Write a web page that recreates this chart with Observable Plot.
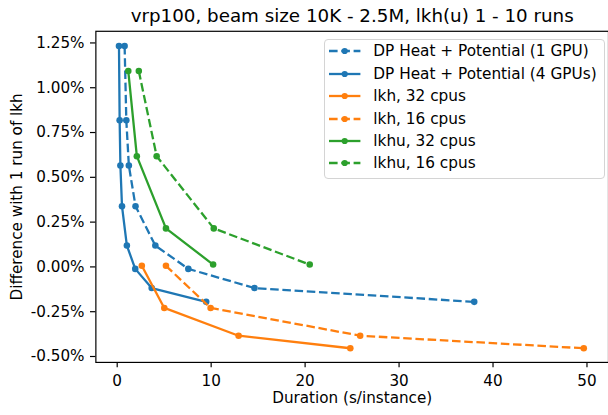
<!DOCTYPE html>
<html>
<head>
<meta charset="utf-8">
<script src="https://cdn.jsdelivr.net/npm/d3@7"></script>
<script src="https://cdn.jsdelivr.net/npm/@observablehq/plot@0.6"></script>
<style>
  html, body { margin: 0; padding: 0; background: #fff; overflow: hidden; }
  #wrap { position: relative; width: 608px; height: 415px; overflow: hidden; font-family: "DejaVu Sans", sans-serif; }
  #wrap > svg { position: absolute; left: 0; top: 0; }
  #legend { position: absolute; left: 324px; top: 39px; width: 281px; height: 140px; padding: 0;
    border: 1px solid #d4d4d4; border-radius: 4px; background: rgba(255,255,255,0.8); box-sizing: border-box; }
  .row { display: flex; align-items: center; height: 22.45px; font-size: 15.3px; color: #000; white-space: nowrap; }
  .row svg { margin-left: 4.3px; margin-right: 12.6px; flex: none; }
</style>
</head>
<body>
<div id="wrap"><div id="legend"></div></div>
<script>
const title = "vrp100, beam size 10K - 2.5M, lkh(u) 1 - 10 runs";
const xLabel = "Duration (s/instance)";
const yLabel = "Difference with 1 run of lkh";
const xTicks = [0, 10, 20, 30, 40, 50];
const yTicks = [-0.5, -0.25, 0, 0.25, 0.5, 0.75, 1.0, 1.25];

const seriesNames = ["DP Heat + Potential (1 GPU)", "DP Heat + Potential (4 GPUs)", "lkh, 32 cpus", "lkh, 16 cpus", "lkhu, 32 cpus", "lkhu, 16 cpus"];
const seriesColors = ["#1f77b4", "#1f77b4", "#ff7f0e", "#ff7f0e", "#2ca02c", "#2ca02c"];
const seriesDashed = [true, false, false, true, false, true];

// y values (% difference with 1 run of lkh)
const beamDiff = [1.233, 0.818, 0.566, 0.339, 0.119, -0.011, -0.118, -0.195];
const lkhDiff = [0.006, -0.229, -0.384, -0.454];
const lkhuDiff = [1.093, 0.618, 0.215, 0.013];
// durations (s/instance)
const gpu1Dur = [0.79, 0.97, 1.24, 1.95, 4.06, 7.57, 14.61, 38.0];
const gpu4Dur = [0.19, 0.26, 0.34, 0.51, 1.03, 1.92, 3.67, 9.47];
const lkh32Dur = [2.62, 5.01, 12.92, 24.81];
const lkh16Dur = [5.19, 9.94, 25.86, 49.66];
const lkhu32Dur = [1.18, 2.09, 5.19, 10.21];
const lkhu16Dur = [2.3, 4.2, 10.28, 20.49];

const seriesX = [gpu1Dur, gpu4Dur, lkh32Dur, lkh16Dur, lkhu32Dur, lkhu16Dur];
const seriesY = [beamDiff, beamDiff, lkhDiff, lkhDiff, lkhuDiff, lkhuDiff];

const dash = "8.6,3.7";
const marks = [];
seriesNames.forEach((name, i) => {
  const pts = seriesX[i].map((x, j) => ({x, y: seriesY[i][j], name}));
  marks.push(Plot.line(pts, {x: "x", y: "y", stroke: seriesColors[i], strokeWidth: 2.3,
    strokeDasharray: seriesDashed[i] ? dash : null, strokeLinejoin: "round", strokeLinecap: "butt"}));
  marks.push(Plot.dot(pts, {x: "x", y: "y", r: 3.3, fill: seriesColors[i], stroke: "none"}));
});

const fmt = d => d.toFixed(2) + "%";

const chart = Plot.plot({
  width: 612, height: 415,
  marginLeft: 96, marginRight: 0, marginTop: 31, marginBottom: 50.7,
  style: {fontFamily: "DejaVu Sans, sans-serif", fontSize: "15.3px", color: "#000", background: "transparent", overflow: "visible"},
  x: {domain: [-2.27, 52.29]},
  y: {domain: [-0.533, 1.315]},
  marks: [
    ...marks,
    Plot.frame({stroke: "#000", strokeWidth: 1.2}),
    Plot.axisX(xTicks, {tickSize: 5.4, tickPadding: 7, label: null, fontSize: 15.3, stroke: "#000", strokeWidth: 1.2}),
    Plot.axisY(yTicks, {tickSize: 5.4, tickPadding: 6, label: null, tickFormat: fmt, fontSize: 15.3, stroke: "#000", strokeWidth: 1.2}),
    Plot.text([title], {text: d => d, frameAnchor: "top", dy: -15.4, textAnchor: "middle", lineAnchor: "middle", fontSize: 18.4, fill: "#000"}),
    Plot.text([xLabel], {text: d => d, frameAnchor: "bottom", dy: 36, textAnchor: "middle", lineAnchor: "middle", fontSize: 15.3, fill: "#000"}),
    Plot.text([yLabel], {text: d => d, frameAnchor: "left", dx: -79, rotate: -90, textAnchor: "middle", lineAnchor: "middle", fontSize: 15.3, fill: "#000"})
  ]
});
const wrap = document.getElementById("wrap");
wrap.insertBefore(chart, wrap.firstChild);

const legend = document.getElementById("legend");
seriesNames.forEach((name, i) => {
  const row = document.createElement("div");
  row.className = "row";
  const c = seriesColors[i];
  const lineAttr = seriesDashed[i] ? `stroke-dasharray="${dash}"` : "";
  row.innerHTML = `<svg width="31.4" height="10"><line x1="0" y1="5" x2="31.4" y2="5" stroke="${c}" stroke-width="2.3" ${lineAttr}></line><circle cx="15.7" cy="5" r="3.1" fill="${c}"></circle></svg><span>${name}</span>`;
  legend.appendChild(row);
});
</script>
</body>
</html>
